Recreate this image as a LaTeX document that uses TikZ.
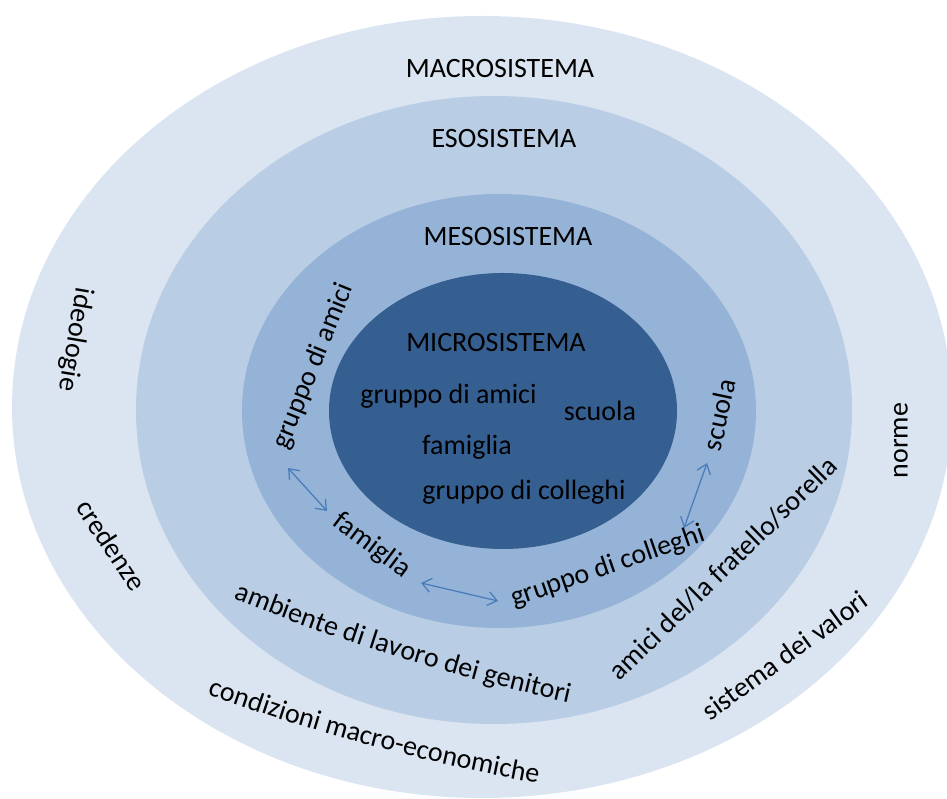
\documentclass[tikz,border=0pt]{standalone}
\usepackage{fontspec}
\setmainfont{Carlito}
\usetikzlibrary{arrows.meta,decorations.text}
\definecolor{macroC}{HTML}{DBE5F1}
\definecolor{esoC}{HTML}{B9CDE5}
\definecolor{mesoC}{HTML}{95B3D7}
\definecolor{microC}{HTML}{365F91}
\definecolor{arrowC}{HTML}{4A7EBB}
\newcommand\lblfont{\fontsize{28}{33}\selectfont}
\tikzset{
  lbl/.style={font=\lblfont, inner sep=0pt, text=black},
  baselbl/.style={lbl, anchor=base},
  link/.style={draw=arrowC, line width=1.3pt,
    {Straight Barb[length=9pt,width=14pt]}-{Straight Barb[length=9pt,width=14pt]}},
  curvedlbl/.style={decorate, decoration={text along path, text={|\lblfont|#1}, text align=center}}
}
\begin{document}
\begin{tikzpicture}[x=1pt,y=1pt]
\useasboundingbox (0,0) rectangle (947,799);
\begin{scope}
  \clip (0,0) rectangle (947,799);
  \fill[macroC] (482,392) ellipse [x radius=470pt, y radius=391pt];
  \fill[esoC]   (494,389) ellipse [x radius=358pt, y radius=314pt];
  \fill[mesoC]  (499,388) ellipse [x radius=257pt, y radius=217pt];
  \fill[microC] (503,388) ellipse [x radius=174pt, y radius=138pt];
\end{scope}
% titles
\node[baselbl] (macro) at (500,721.5) {MACROSISTEMA};
\node[baselbl] (eso)   at (504,651) {ESOSISTEMA};
\node[baselbl] (meso)  at (508,553) {MESOSISTEMA};
\node[baselbl] (micro) at (496,447) {MICROSISTEMA};
% microsystem
\node[baselbl] (miAmici)    at (448.5,395) {gruppo di amici};
\node[baselbl] (miScuola)   at (600,378) {scuola};
\node[baselbl] (miFamiglia) at (467,344) {famiglia};
\node[baselbl] (miColleghi) at (524,299) {gruppo di colleghi};
% mesosystem
\node[lbl, rotate=68]  (meAmici)    at (313.5,433) {gruppo di amici};
\node[lbl, rotate=78]  (meScuola)   at (719,384) {scuola};
\node[lbl, rotate=-37] (meFamiglia) at (371.5,253.5) {famiglia};
\node[lbl, rotate=19]  (meColleghi) at (608,232) {gruppo di colleghi};
% exosystem
\node[lbl, rotate=44.3] (exAmici) at (723,230.5) {amici del/la fratello/sorella};
\begin{scope}[shift={(1038.2,2200.5)}]
  \path[curvedlbl={ambiente di lavoro dei genitori}]
    (-112.47:2156pt) arc [start angle=-112.47, end angle=-102.03, radius=2156pt];
\end{scope}
% macrosystem
\node[lbl, rotate=-99.6] (maIdeo)  at (75,459.5) {ideologie};
\node[lbl, rotate=-56.8] (maCred)  at (111.5,254) {credenze};
\node[lbl, rotate=90]    (maNorme) at (901,358.5) {norme};
\node[lbl, rotate=36]    (maValori) at (784.5,143.5) {sistema dei valori};
\begin{scope}[shift={(907.8,2051.2)}]
  \path[curvedlbl={condizioni macro-economiche}]
    (-110.36:2069pt) arc [start angle=-110.36, end angle=-99.73, radius=2069pt];
\end{scope}
% connectors
\coordinate (la) at (288,331);
\coordinate (lb) at (327,288);
\coordinate (ba) at (421,216);
\coordinate (bb) at (498,198);
\coordinate (ra) at (707,336);
\coordinate (rb) at (684,271);
\draw[link] (la) -- (lb);
\draw[link] (ba) -- (bb);
\draw[link] (ra) -- (rb);
\end{tikzpicture}
\end{document}
